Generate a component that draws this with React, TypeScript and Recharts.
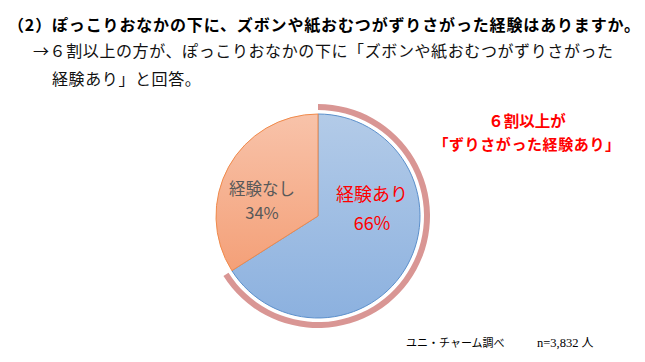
import { PieChart, Pie, Cell } from 'recharts'

const categories = ['経験あり', '経験なし']
const values = [66, 34]
const percentLabels = ['66%', '34%']

const pieData = categories.map((name, i) => ({ name, value: values[i], pct: percentLabels[i] }))

const FONT = '"Noto Sans CJK JP", "Noto Sans", sans-serif'
const FILLS = ['url(#gradBlue)', 'url(#gradOrange)']
const STROKES = ['#5B8FCB', '#F08A4B']
const ARC_FILLS = ['#D99694', 'transparent']
const LABEL_COLORS = ['#FF0000', '#595959']
// offsets from pie centre, tuned by eye (name line / percent line)
const LABEL_OFFSETS = [
  { dx: 54, dy1: -23, dy2: 6, size: 18 },
  { dx: -56, dy1: -28, dy2: -4, size: 16.5 },
]

const CX = 313
const CY = 211

const renderLabel = (props: any) => {
  const { cx, cy, index } = props
  const o = LABEL_OFFSETS[index]
  const x = cx + o.dx
  return (
    <g>
      <text x={x} y={cy + o.dy1} textAnchor="middle" dominantBaseline="central"
        fill={LABEL_COLORS[index]} fontSize={o.size} fontFamily={FONT}>
        {categories[index]}
      </text>
      <text x={x} y={cy + o.dy2} textAnchor="middle" dominantBaseline="central"
        fill={LABEL_COLORS[index]} fontSize={o.size} fontFamily={FONT}>
        {percentLabels[index]}
      </text>
    </g>
  )
}

const abs = (left: number, top: number, extra: any = {}) => ({
  position: 'absolute' as const, left, top, whiteSpace: 'nowrap' as const,
  fontFamily: FONT, lineHeight: 1, ...extra,
})

export default function App() {
  return (
    <div style={{ position: 'absolute', left: 0, top: 0, width: 645, height: 362, background: '#fff', overflow: 'hidden' }}>
      <div style={abs(8, 16, { fontSize: 16, fontWeight: 700, color: '#000', letterSpacing: 0.85 })}>
        （2）ぽっこりおなかの下に、ズボンや紙おむつがずりさがった経験はありますか。
      </div>
      <div style={abs(33, 42, { fontSize: 16, color: '#111', letterSpacing: 0.6 })}>
        →６割以上の方が、ぽっこりおなかの下に「ズボンや紙おむつがずりさがった
      </div>
      <div style={abs(52, 70, { fontSize: 16, color: '#111', letterSpacing: 0.6 })}>
        経験あり」と回答。
      </div>

      <PieChart width={645} height={362} style={{ position: 'absolute', left: 0, top: 0 }}>
        <defs>
          <linearGradient id="gradBlue" x1="0" y1="0" x2="0" y2="1">
            <stop offset="0%" stopColor="#B3CBE8" />
            <stop offset="100%" stopColor="#8CB1DF" />
          </linearGradient>
          <linearGradient id="gradOrange" x1="0" y1="0" x2="0" y2="1">
            <stop offset="0%" stopColor="#F8C3AA" />
            <stop offset="100%" stopColor="#F4A078" />
          </linearGradient>
        </defs>
        <Pie
          data={pieData}
          dataKey="value"
          cx={CX}
          cy={CY}
          innerRadius={106}
          outerRadius={112}
          startAngle={90}
          endAngle={-270}
          stroke="none"
          isAnimationActive={false}
        >
          {pieData.map((_, i) => (
            <Cell key={i} fill={ARC_FILLS[i]} />
          ))}
        </Pie>
        <Pie
          data={pieData}
          dataKey="value"
          cx={CX}
          cy={CY}
          outerRadius={102}
          startAngle={90}
          endAngle={-270}
          label={renderLabel}
          labelLine={false}
          isAnimationActive={false}
        >
          {pieData.map((_, i) => (
            <Cell key={i} fill={FILLS[i]} stroke={STROKES[i]} strokeWidth={1} />
          ))}
        </Pie>
      </PieChart>

      <div style={abs(527, 113, { fontSize: 15.5, fontWeight: 700, color: '#FF0000', transform: 'translateX(-50%)' })}>
        ６割以上が
      </div>
      <div style={abs(527, 136, { fontSize: 15, fontWeight: 700, color: '#FF0000', transform: 'translateX(-50%)', letterSpacing: 0.6 })}>
        「ずりさがった経験あり」
      </div>

      <div style={abs(406, 337, { fontSize: 11, color: '#000' })}>
        ユニ・チャーム調べ
      </div>
      <div style={abs(537, 336, { fontSize: 12.5, color: '#000', fontFamily: '"Liberation Serif", serif' })}>
        n=3,832 <span style={{ fontFamily: FONT, fontSize: 12 }}>人</span>
      </div>
    </div>
  )
}
